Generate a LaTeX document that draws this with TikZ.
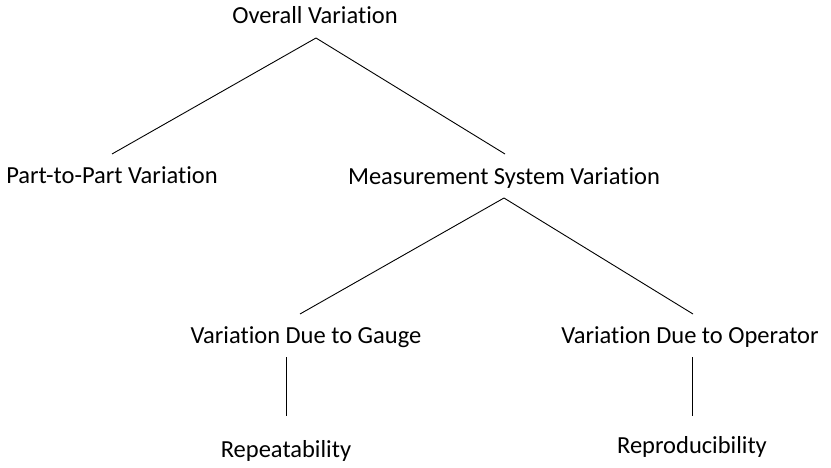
\documentclass[tikz,border=0pt]{standalone}
\usepackage{fontspec}
\setmainfont{Carlito}[Ligatures=NoCommon]
\usetikzlibrary{positioning}

\begin{document}
\begin{tikzpicture}[x=1pt, y=-1pt, line width=0.9pt,
    lbl/.style={anchor=base, inner sep=0pt, font=\fontsize{24.5}{28}\selectfont}]
\useasboundingbox (0,0) rectangle (831,468);

% Tree of variation sources, placed by baseline
\node[lbl] (overall) at (315,24) {Overall Variation};
\node[lbl] (part) at (112,184) {Part-to-Part Variation};
\node[lbl] (msys) at (504,185) {Measurement System Variation};
\node[lbl] (gauge) at (306,343) {Variation Due to Gauge};
\node[lbl] (oper) at (690,343) {Variation Due to Operator};
\node[lbl] (repeat) at (286,457) {Repeatability};
\node[lbl] (reprod) at (692,453) {Reproducibility};

% Branches
\draw ([xshift=1pt, yshift=-14pt]overall.base) -- ([yshift=30pt]part.base);
\draw ([xshift=1pt, yshift=-14pt]overall.base) -- ([xshift=1pt, yshift=31pt]msys.base);
\draw ([yshift=-13pt]msys.base) -- ([xshift=-6pt, yshift=29pt]gauge.base);
\draw ([yshift=-13pt]msys.base) -- ([xshift=3pt, yshift=29pt]oper.base);
\draw ([yshift=-14pt]repeat.base |- gauge.base) -- ([yshift=41pt]repeat.base);
\draw ([yshift=-14pt]reprod.base |- oper.base) -- ([yshift=37pt]reprod.base);
\end{tikzpicture}
\end{document}
